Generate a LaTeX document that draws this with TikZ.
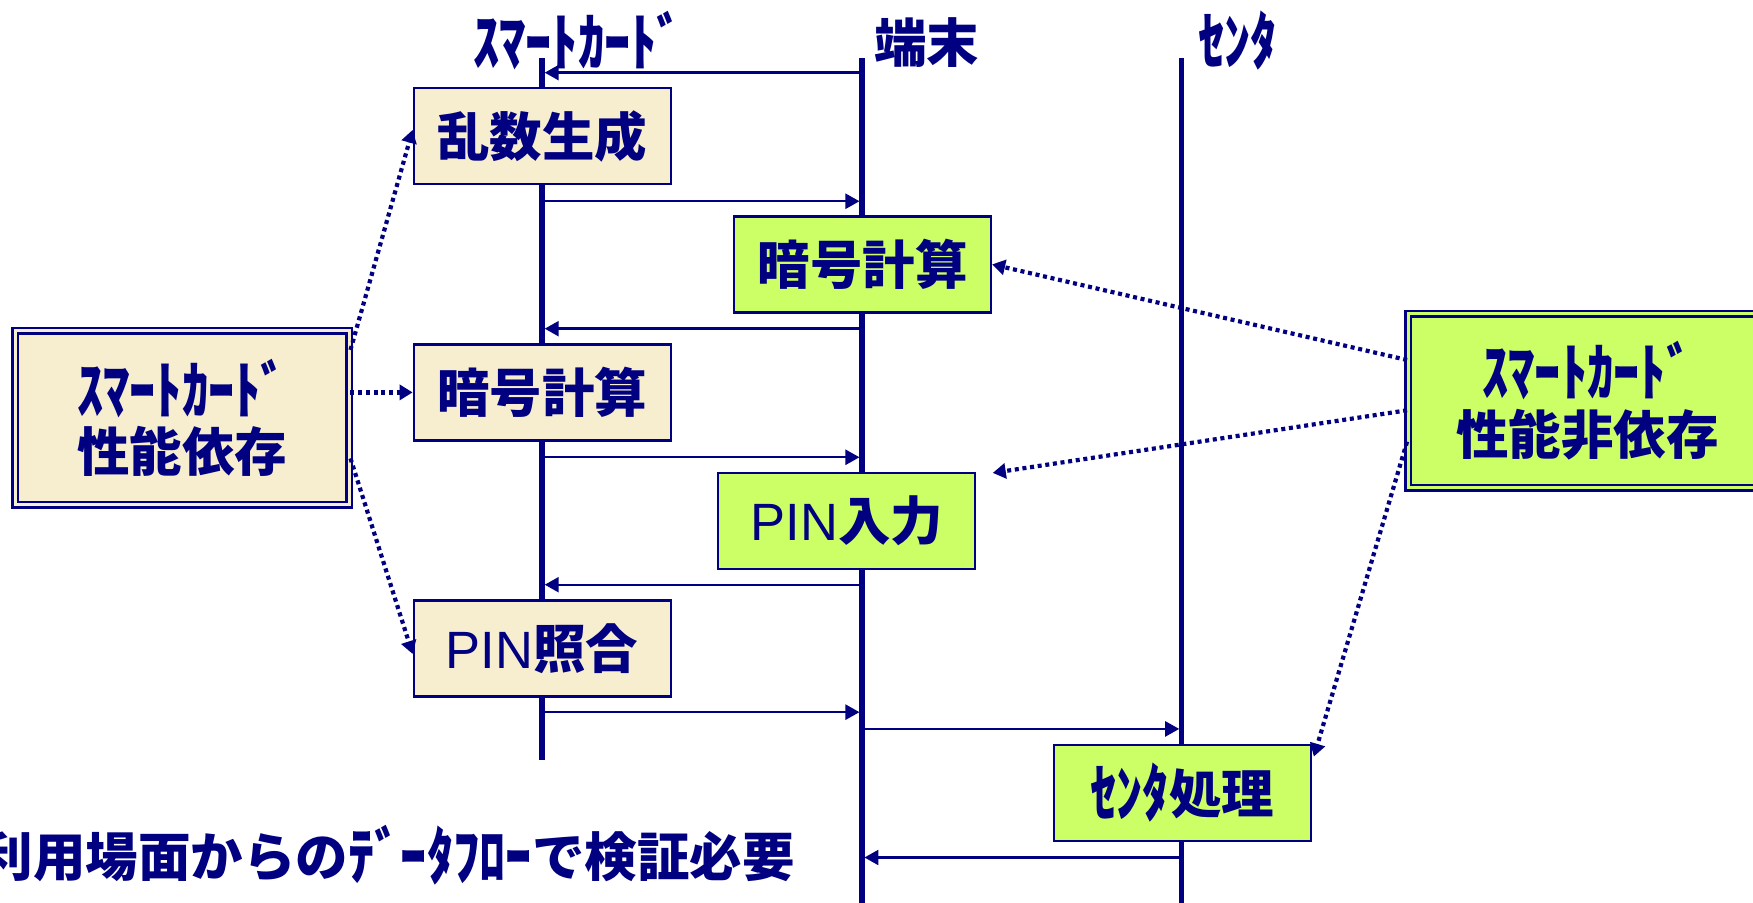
\documentclass[tikz,border=0pt]{standalone}
\usepackage{fontspec}
\usepackage{graphicx}
\newfontfamily\jp{Noto Sans CJK JP}
\newfontfamily\lat{Liberation Sans}
\newcommand\hwk[1]{\raisebox{-0.05em}{\scalebox{1}[1.2]{#1}}}
\usetikzlibrary{arrows.meta}
\definecolor{navy}{HTML}{000080}
\definecolor{beige}{HTML}{F7EED0}
\definecolor{lime}{HTML}{CCFF66}
\tikzset{
  lbl/.style={font=\jp\bfseries\fontsize{52.5}{61}\selectfont, text=navy, align=center},
  cardbox/.style={lbl, draw=navy, line width=2.2pt, fill=beige, minimum width=257pt, minimum height=96pt, inner sep=0pt},
  termbox/.style={cardbox, fill=lime},
  bigbox/.style={lbl, draw=navy, line width=2.5pt, double distance=3pt, minimum width=334pt, minimum height=174pt, inner sep=0pt},
  lifeline/.style={draw=navy, line width=5.5pt},
  msg/.style={draw=navy, line width=2.4pt, -{Triangle[length=14pt,width=15pt]}, shorten >=2.5pt},
  dotarrow/.style={draw=navy, line width=4.2pt, dash pattern=on 4pt off 3.7pt, -{Triangle[length=13pt,width=15pt]}},
  title/.style={font=\jp\bfseries\fontsize{52.5}{60}\selectfont, text=navy, inner sep=0pt}
}
\begin{document}
\begin{tikzpicture}[x=1.118pt,y=-1.118pt]
\useasboundingbox (0,0) rectangle (1568,807);
% lifelines
\coordinate (Stop) at (485,52); \coordinate (Sbot) at (485,680);
\coordinate (Ttop) at (771,52); \coordinate (Tbot) at (771,812);
\coordinate (Ctop) at (1057,52); \coordinate (Cbot) at (1057,812);
\draw[lifeline] (Stop) -- (Sbot);
\draw[lifeline] (Ttop) -- (Tbot);
\draw[lifeline] (Ctop) -- (Cbot);
% titles
\node[title] (ts) at (517,36) {\hwk{ｽﾏｰﾄｶｰﾄﾞ}};
\node[title] (tt) at (829,38) {端末};
\node[title] (tc) at (1107,36) {\hwk{ｾﾝﾀ}};
% boxes
\node[cardbox] (rand) at (485,122) {乱数生成};
\node[termbox] (enc2) at (771.5,236.5) {暗号計算};
\node[cardbox] (enc1) at (485,351) {暗号計算};
\node[termbox] (pin) at (757.5,466) {{\lat\mdseries PIN}入力};
\node[cardbox] (pinv) at (485,580) {{\lat\mdseries PIN}照合};
\node[termbox] (ctr) at (1057.5,709) {\hwk{ｾﾝﾀ}処理};
% big boxes
\node[bigbox, fill=beige, double=beige] (L) at (163,373.5) {\hwk{ｽﾏｰﾄｶｰﾄﾞ}\\性能依存};
\node[bigbox, fill=lime, double=lime, minimum width=358pt] (R) at (1419.8,358.5) {\hwk{ｽﾏｰﾄｶｰﾄﾞ}\\性能非依存};
% messages
\draw[msg] (Ttop |- 0,65) -- (Stop |- 0,65);
\draw[msg] (Stop |- 0,180) -- (Ttop |- 0,180);
\draw[msg] (Ttop |- 0,294) -- (Stop |- 0,294);
\draw[msg] (Stop |- 0,409) -- (Ttop |- 0,409);
\draw[msg] (Ttop |- 0,523) -- (Stop |- 0,523);
\draw[msg] (Stop |- 0,637) -- (Ttop |- 0,637);
\draw[msg] (Ttop |- 0,652) -- (Ctop |- 0,652);
\draw[msg] (Ctop |- 0,767) -- (Ttop |- 0,767);
% dotted arrows
\draw[dotarrow] (L.east |- 0,313) -- ([yshift=6.5pt]rand.west);
\draw[dotarrow] (L.east |- enc1.west) -- (enc1.west);
\draw[dotarrow] (L.east |- 0,410) -- ([yshift=-5.5pt]pinv.west);
\coordinate (p1) at (888,423);
\draw[dotarrow] (R.west |- 0,322) -- (enc2.east);
\draw[dotarrow] (R.west |- 0,367) -- (p1);
\draw[dotarrow] (R.west |- 0,395) -- ([yshift=-13pt,xshift=2pt]ctr.north east);
% bottom note
\node[lbl, anchor=east, inner sep=0pt] (note) at (711,765) {利用場面からの\hwk{ﾃﾞｰﾀﾌﾛｰ}で検証必要};
\end{tikzpicture}
\end{document}
